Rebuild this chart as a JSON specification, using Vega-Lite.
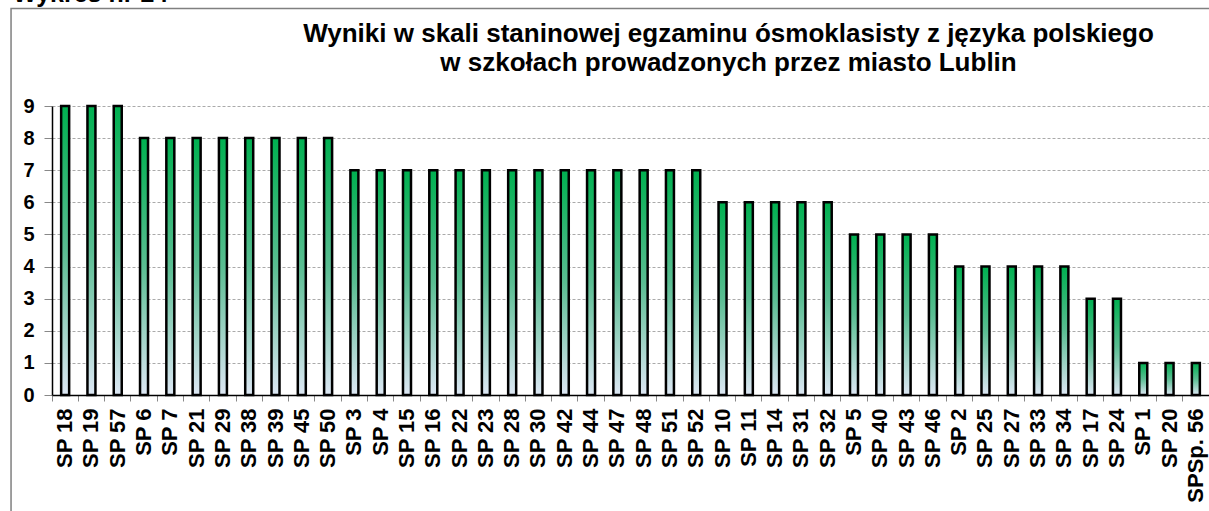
{
  "$schema": "https://vega.github.io/schema/vega-lite/v6.json",
  "width": 1157,
  "height": 289,
  "autosize": "none",
  "padding": {"left": 52, "top": 106, "right": 0, "bottom": 116},
  "background": "white",
  "title": {
    "text": ["Wyniki w skali staninowej egzaminu ósmoklasisty z języka polskiego", "w szkołach prowadzonych przez miasto Lublin"],
    "font": "Liberation Sans",
    "fontSize": 26,
    "fontWeight": "bold",
    "lineHeight": 29,
    "anchor": "middle",
    "dx": 98,
    "offset": -94,
    "color": "black"
  },
  "layer": [
    {
      "data": {"values": [{"ramka": "obramowanie"}]},
      "mark": {"type": "rect", "filled": false, "stroke": "#808080", "strokeWidth": 1.5},
      "encoding": {
        "x": {"datum": -0.0354, "type": "quantitative", "scale": {"domain": [0, 1], "nice": false, "zero": false}, "axis": null},
        "x2": {"datum": 1.3},
        "y": {"datum": 12.036, "type": "quantitative", "scale": {"domain": [0, 9], "nice": false, "zero": false}, "axis": null},
        "y2": {"datum": -6}
      }
    },
    {
      "data": {"values": [{"tekst": "Wykres nr 24"}]},
      "mark": {"type": "text", "align": "left", "baseline": "alphabetic", "font": "Liberation Sans", "fontSize": 25, "fontWeight": "bold", "color": "black"},
      "encoding": {
        "text": {"field": "tekst", "type": "nominal"},
        "x": {"datum": -0.0337, "type": "quantitative", "scale": {"domain": [0, 1], "nice": false, "zero": false}, "axis": null},
        "y": {"datum": 12.25, "type": "quantitative", "scale": {"domain": [0, 9], "nice": false, "zero": false}, "axis": null}
      }
    },
    {
      "data": {
        "values": [
          {"szkola": "SP 18", "wynik": 9},
          {"szkola": "SP 19", "wynik": 9},
          {"szkola": "SP 57", "wynik": 9},
          {"szkola": "SP 6", "wynik": 8},
          {"szkola": "SP 7", "wynik": 8},
          {"szkola": "SP 21", "wynik": 8},
          {"szkola": "SP 29", "wynik": 8},
          {"szkola": "SP 38", "wynik": 8},
          {"szkola": "SP 39", "wynik": 8},
          {"szkola": "SP 45", "wynik": 8},
          {"szkola": "SP 50", "wynik": 8},
          {"szkola": "SP 3", "wynik": 7},
          {"szkola": "SP 4", "wynik": 7},
          {"szkola": "SP 15", "wynik": 7},
          {"szkola": "SP 16", "wynik": 7},
          {"szkola": "SP 22", "wynik": 7},
          {"szkola": "SP 23", "wynik": 7},
          {"szkola": "SP 28", "wynik": 7},
          {"szkola": "SP 30", "wynik": 7},
          {"szkola": "SP 42", "wynik": 7},
          {"szkola": "SP 44", "wynik": 7},
          {"szkola": "SP 47", "wynik": 7},
          {"szkola": "SP 48", "wynik": 7},
          {"szkola": "SP 51", "wynik": 7},
          {"szkola": "SP 52", "wynik": 7},
          {"szkola": "SP 10", "wynik": 6},
          {"szkola": "SP 11", "wynik": 6},
          {"szkola": "SP 14", "wynik": 6},
          {"szkola": "SP 31", "wynik": 6},
          {"szkola": "SP 32", "wynik": 6},
          {"szkola": "SP 5", "wynik": 5},
          {"szkola": "SP 40", "wynik": 5},
          {"szkola": "SP 43", "wynik": 5},
          {"szkola": "SP 46", "wynik": 5},
          {"szkola": "SP 2", "wynik": 4},
          {"szkola": "SP 25", "wynik": 4},
          {"szkola": "SP 27", "wynik": 4},
          {"szkola": "SP 33", "wynik": 4},
          {"szkola": "SP 34", "wynik": 4},
          {"szkola": "SP 17", "wynik": 3},
          {"szkola": "SP 24", "wynik": 3},
          {"szkola": "SP 1", "wynik": 1},
          {"szkola": "SP 20", "wynik": 1},
          {"szkola": "SPSp. 56", "wynik": 1}
        ]
      },
      "mark": {
        "type": "bar",
        "width": 8,
        "stroke": "black",
        "strokeWidth": 2.5,
        "fill": {
          "gradient": "linear",
          "x1": 0, "y1": 0, "x2": 0, "y2": 1,
          "stops": [
            {"offset": 0, "color": "#00b050"},
            {"offset": 0.5, "color": "#5abd92"},
            {"offset": 1, "color": "#dde7f4"}
          ]
        }
      },
      "encoding": {
        "x": {
          "field": "szkola",
          "type": "nominal",
          "sort": null,
          "scale": {"paddingInner": 0, "paddingOuter": 0},
          "axis": {
            "title": null,
            "labelAngle": -90,
            "labelAlign": "right",
            "labelBaseline": "middle",
            "labelFont": "Liberation Sans",
            "labelFontSize": 22,
            "labelFontWeight": "bold",
            "labelColor": "black",
            "labelPadding": 7,
            "labelOverlap": false,
            "labelBound": false,
            "bandPosition": 0,
            "tickSize": 6,
            "tickColor": "#888888",
            "domainColor": "black",
            "domainWidth": 1.5,
            "grid": false
          }
        },
        "y": {
          "field": "wynik",
          "type": "quantitative",
          "scale": {"domain": [0, 9], "nice": false},
          "axis": {
            "title": null,
            "values": [0, 1, 2, 3, 4, 5, 6, 7, 8, 9],
            "labelFont": "Liberation Sans",
            "labelFontSize": 20,
            "labelFontWeight": "bold",
            "labelColor": "black",
            "labelPadding": 10,
            "tickSize": 8,
            "tickColor": "#888888",
            "domainColor": "black",
            "domainWidth": 1.5,
            "grid": true,
            "gridColor": "#aaaaaa",
            "gridDash": [3, 2],
            "gridWidth": 1
          }
        }
      }
    }
  ],
  "resolve": {"scale": {"x": "independent", "y": "independent"}},
  "config": {"view": {"stroke": null}}
}
